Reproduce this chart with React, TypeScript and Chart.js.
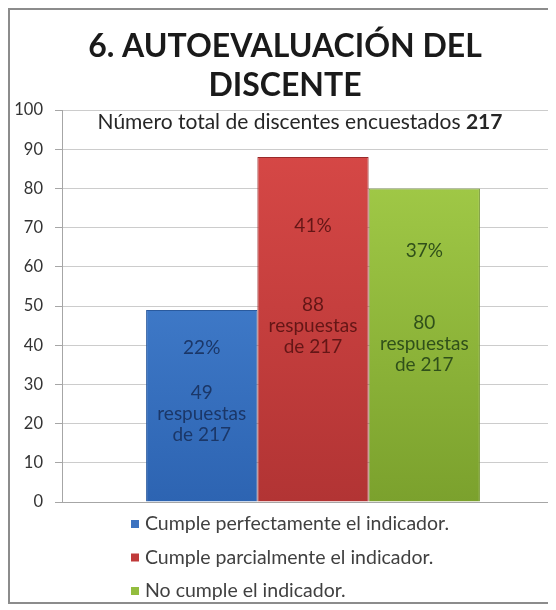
import React, { useEffect, useRef } from "react";
import { Chart, registerables } from "chart.js";

Chart.register(...registerables);

// ---- data ----
const titleLines = ["6. AUTOEVALUACIÓN DEL", "DISCENTE"];
const subtitleText = "Número total de discentes encuestados";
const totalRespondents = 217;
const categories = [""];
const seriesLabels = [
  "Cumple perfectamente el indicador.",
  "Cumple parcialmente el indicador.",
  "No cumple el indicador.",
];
const responses = [49, 88, 80];
const percentLabels = ["22%", "41%", "37%"];
const yMin = 0;
const yMax = 100;
const yStep = 10;

// ---- styles ----
const FONT = "Lato, 'Open Sans', sans-serif";
const barTop = ["#4f8ddc", "#da4a48", "#a8d14c"];
const barBottom = ["#2d64b2", "#b23434", "#7ba12d"];
const barEdge = ["#2a5a9e", "#992a2a", "#6f9228"];
const labelColors = ["#1b3768", "#641616", "#30501a"];
const legendSwatch = ["#3b72c0", "#c03a3a", "#93bd3e"];

const overlayPlugin = {
  id: "overlay",
  afterDatasetsDraw(chart: any) {
    const ctx = chart.ctx;
    const y = chart.scales.y;
    ctx.save();
    ctx.textAlign = "center";
    ctx.textBaseline = "middle";
    chart.data.datasets.forEach((ds: any, i: number) => {
      const bar = chart.getDatasetMeta(i).data[0];
      if (!bar) return;
      const v = ds.data[0];
      const x = bar.x;
      ctx.fillStyle = labelColors[i];
      ctx.font = `19px ${FONT}`;
      ctx.fillText(percentLabels[i], x, y.getPixelForValue(v * 0.8));
      const y0 = y.getPixelForValue(v * 0.57);
      const lines = [`${v}`, "respuestas", `de ${totalRespondents}`];
      ctx.font = `19px ${FONT}`;
      lines.forEach((t, k) => ctx.fillText(t, x, y0 + k * 21));
    });
    ctx.restore();
  },
  afterDraw(chart: any) {
    const ctx = chart.ctx;
    ctx.save();
    // title
    ctx.fillStyle = "#1a1a1a";
    ctx.textAlign = "center";
    ctx.textBaseline = "alphabetic";
    ctx.font = `bold 32px ${FONT}`;
    ctx.fillText(titleLines[0], 275, 47);
    ctx.fillText(titleLines[1], 275, 86);
    // subtitle
    ctx.textBaseline = "middle";
    const part1 = subtitleText + " ";
    const part2 = `${totalRespondents}`;
    ctx.font = `21px ${FONT}`;
    const w1 = ctx.measureText(part1).width;
    ctx.font = `bold 21px ${FONT}`;
    const w2 = ctx.measureText(part2).width;
    const sx = 290 - (w1 + w2) / 2;
    ctx.textAlign = "left";
    ctx.fillStyle = "#262626";
    ctx.font = `21px ${FONT}`;
    ctx.fillText(part1, sx, 112);
    ctx.font = `bold 21px ${FONT}`;
    ctx.fillText(part2, sx + w1, 112);
    // legend
    ctx.font = `19.5px ${FONT}`;
    chart.data.datasets.forEach((ds: any, i: number) => {
      const ly = 514 + i * 33.5;
      ctx.fillStyle = legendSwatch[i];
      ctx.fillRect(121, ly - 4, 8, 8);
      ctx.fillStyle = "#404040";
      ctx.fillText(ds.label, 135, ly);
    });
    ctx.restore();
  },
};

export default function App() {
  const ref = useRef<HTMLCanvasElement>(null);
  useEffect(() => {
    if (!ref.current) return;
    const chart = new Chart(ref.current, {
      type: "bar",
      data: {
        labels: categories,
        datasets: seriesLabels.map((label, i) => ({
          label,
          data: [responses[i]],
          backgroundColor: (c: any) => {
            const ch = c.chart;
            const area = ch.chartArea;
            if (!area) return barTop[i];
            const g = ch.ctx.createLinearGradient(0, area.top, 0, area.bottom);
            g.addColorStop(0, barTop[i]);
            g.addColorStop(1, barBottom[i]);
            return g;
          },
          borderColor: barEdge[i],
          borderWidth: 1,
          categoryPercentage: 0.665,
          barPercentage: 1,
        })),
      },
      options: {
        responsive: false,
        animation: false,
        devicePixelRatio: 1,
        layout: { padding: { top: 100, bottom: 100, left: 0, right: 16 } },
        plugins: {
          legend: { display: false },
          title: { display: false },
          tooltip: { enabled: false },
        },
        scales: {
          x: { display: false },
          y: {
            min: yMin,
            max: yMax,
            afterFit: (scale: any) => {
              scale.width = 52;
            },
            ticks: {
              stepSize: yStep,
              padding: 12,
              color: "#333333",
              font: { family: FONT, size: 16.5 },
            },
            grid: {
              color: (c: any) => (c.tick && c.tick.value === 0 ? "#a6a6a6" : "#cccccc"),
              tickLength: 7,
              tickColor: "#a6a6a6",
            },
            border: { color: "#a6a6a6" },
          },
        },
      },
      plugins: [overlayPlugin],
    });
    (document as any).fonts?.load?.(`bold 32px Lato`).then(() => chart.update());
    return () => chart.destroy();
  }, []);
  return (
    <div
      style={{
        position: "relative",
        width: 546,
        height: 596,
        boxSizing: "border-box",
        border: "2px solid #8c8c8c",
        overflow: "hidden",
        background: "#fff",
      }}
    >
      <canvas
        ref={ref}
        width={570}
        height={592}
        style={{ position: "absolute", left: 0, top: 0, width: 570, height: 592 }}
      />
    </div>
  );
}
